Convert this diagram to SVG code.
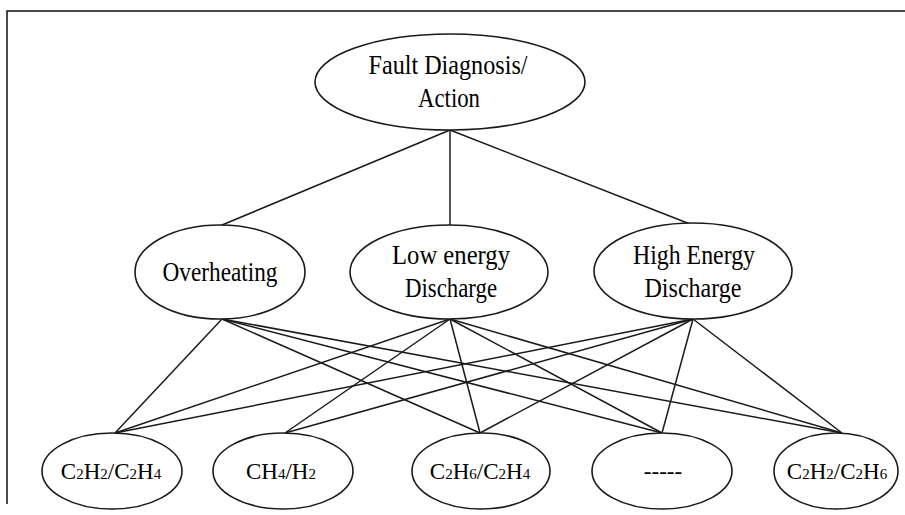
<svg xmlns="http://www.w3.org/2000/svg" width="905" height="515" viewBox="0 0 905 515">
  <style>
    .node ellipse { fill: #ffffff; stroke: #1a1a1a; stroke-width: 1.6; }
    .node text { font-family: "Liberation Serif", "Times New Roman", serif; font-size: 27px; fill: #000; text-anchor: middle; }
    .gas text { font-size: 23px; }
    .gas tspan.sub { font-size: 15px; }
    #connectors line { stroke: #1a1a1a; stroke-width: 1.5; }
    .frame { fill: none; stroke: #111; stroke-width: 1.5; }
  </style>

  <rect x="0" y="0" width="905" height="515" fill="#ffffff"/>
  <path class="frame" d="M7,504 V11 H905"/>

  <!-- connectors -->
  <g id="connectors">
    <!-- root to categories -->
    <line x1="450" y1="130" x2="222" y2="225"/>
    <line x1="450" y1="130" x2="450" y2="225"/>
    <line x1="450" y1="130" x2="690" y2="224"/>
    <!-- Overheating to gas ratios -->
    <line x1="222" y1="319" x2="115" y2="433"/>
    <line x1="222" y1="319" x2="480" y2="433"/>
    <line x1="222" y1="319" x2="662" y2="433"/>
    <line x1="222" y1="319" x2="842" y2="433"/>
    <!-- Low energy discharge to gas ratios -->
    <line x1="450" y1="319" x2="115" y2="433"/>
    <line x1="450" y1="319" x2="285" y2="433"/>
    <line x1="450" y1="319" x2="480" y2="433"/>
    <line x1="450" y1="319" x2="662" y2="433"/>
    <line x1="450" y1="319" x2="842" y2="433"/>
    <!-- High energy discharge to gas ratios -->
    <line x1="693" y1="319" x2="115" y2="433"/>
    <line x1="693" y1="319" x2="285" y2="433"/>
    <line x1="693" y1="319" x2="480" y2="433"/>
    <line x1="693" y1="319" x2="662" y2="433"/>
    <line x1="693" y1="319" x2="842" y2="433"/>
  </g>

  <!-- root -->
  <g id="fault-diagnosis" class="node">
    <ellipse cx="450" cy="82" rx="135" ry="48"/>
    <text x="448" y="74" textLength="159" lengthAdjust="spacingAndGlyphs">Fault Diagnosis/</text>
    <text x="449" y="107" textLength="62" lengthAdjust="spacingAndGlyphs">Action</text>
  </g>

  <!-- fault categories -->
  <g id="overheating" class="node">
    <ellipse cx="220" cy="272" rx="85" ry="47"/>
    <text x="220" y="281" textLength="115" lengthAdjust="spacingAndGlyphs">Overheating</text>
  </g>
  <g id="low-energy-discharge" class="node">
    <ellipse cx="449" cy="272" rx="99" ry="47"/>
    <text x="451" y="264" textLength="118" lengthAdjust="spacingAndGlyphs">Low energy</text>
    <text x="451" y="297" textLength="92" lengthAdjust="spacingAndGlyphs">Discharge</text>
  </g>
  <g id="high-energy-discharge" class="node">
    <ellipse cx="693" cy="271" rx="99" ry="48"/>
    <text x="694" y="264" textLength="122" lengthAdjust="spacingAndGlyphs">High Energy</text>
    <text x="693" y="297" textLength="97" lengthAdjust="spacingAndGlyphs">Discharge</text>
  </g>

  <!-- gas ratios -->
  <g id="c2h2-c2h4" class="node gas">
    <ellipse cx="112" cy="471" rx="70" ry="38"/>
    <text x="111" y="479">C<tspan class="sub">2</tspan>H<tspan class="sub">2</tspan>/C<tspan class="sub">2</tspan>H<tspan class="sub">4</tspan></text>
  </g>
  <g id="ch4-h2" class="node gas">
    <ellipse cx="283" cy="471" rx="70" ry="38"/>
    <text x="281" y="479">CH<tspan class="sub">4</tspan>/H<tspan class="sub">2</tspan></text>
  </g>
  <g id="c2h6-c2h4" class="node gas">
    <ellipse cx="481" cy="471" rx="69" ry="38"/>
    <text x="480" y="479">C<tspan class="sub">2</tspan>H<tspan class="sub">6</tspan>/C<tspan class="sub">2</tspan>H<tspan class="sub">4</tspan></text>
  </g>
  <g id="other-ratio" class="node gas">
    <ellipse cx="662" cy="471" rx="70" ry="38"/>
    <text x="663" y="479">-----</text>
  </g>
  <g id="c2h2-c2h6" class="node gas">
    <ellipse cx="836" cy="471" rx="62" ry="38"/>
    <text x="837" y="479">C<tspan class="sub">2</tspan>H<tspan class="sub">2</tspan>/C<tspan class="sub">2</tspan>H<tspan class="sub">6</tspan></text>
  </g>
</svg>
